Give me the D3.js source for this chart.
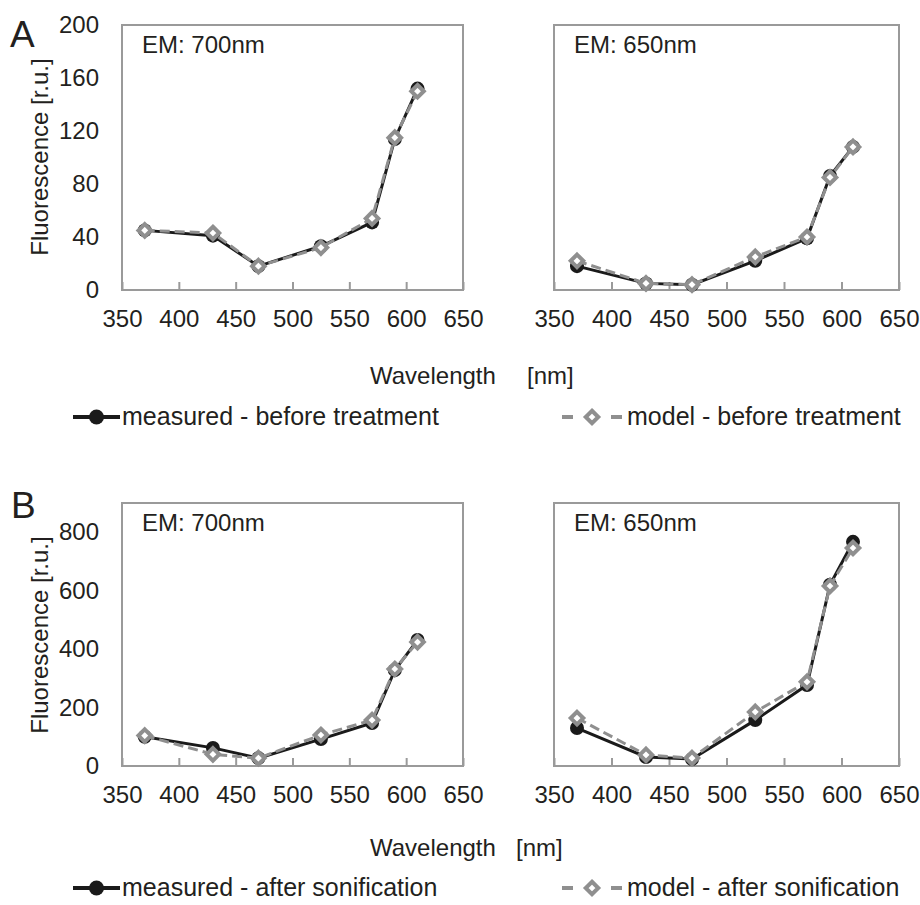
<!DOCTYPE html>
<html>
<head>
<meta charset="utf-8">
<script src="https://cdn.jsdelivr.net/npm/d3@7"></script>
<style>
  html, body { margin: 0; padding: 0; background: #fff; }
  svg { display: block; }
  text { font-family: "Liberation Sans", Arial, sans-serif; fill: #231f20; }
</style>
</head>
<body>
<svg id="chart" width="920" height="905"></svg>
<script>
// ---- data ----
const wavelengths = [370, 430, 470, 525, 570, 590, 610];
const xTicks = [350, 400, 450, 500, 550, 600, 650];
const yTicksTop = [0, 40, 80, 120, 160, 200];
const yTicksBottom = [0, 200, 400, 600, 800];

const measuredBefore700 = [45, 41, 18, 33, 51, 114, 152];
const modelBefore700    = [45, 43, 18, 32, 54, 115, 150];
const measuredBefore650 = [18, 5, 4, 22, 39, 86, 108];
const modelBefore650    = [22, 5, 4, 25, 40, 85, 108];
const measuredAfter700  = [100, 62, 27, 92, 147, 328, 431];
const modelAfter700     = [104, 40, 27, 106, 157, 332, 424];
const measuredAfter650  = [130, 31, 24, 157, 277, 620, 767];
const modelAfter650     = [164, 38, 27, 185, 288, 616, 746];

const panelTitles = ["EM: 700nm", "EM: 650nm"];
const legendTop = ["measured - before treatment", "model - before treatment"];
const legendBottom = ["measured - after sonification", "model - after sonification"];

// ---- layout ----
const svg = d3.select("#chart");
const BLACK = "#1a1a1a", GRAY = "#8f8f8f", BOX = "#9a9a9a";
const FS = 24, LFS = 25;

const panels = [
  {x0: 122, x1: 463, y0: 25,  y1: 290, ymax: 200, yTicks: yTicksTop, showY: true,  title: panelTitles[0], meas: measuredBefore700, mod: modelBefore700},
  {x0: 554, x1: 899, y0: 25,  y1: 290, ymax: 200, yTicks: yTicksTop, showY: false, title: panelTitles[1], meas: measuredBefore650, mod: modelBefore650},
  {x0: 122, x1: 463, y0: 503, y1: 766, ymax: 900, yTicks: yTicksBottom, showY: true,  title: panelTitles[0], meas: measuredAfter700, mod: modelAfter700},
  {x0: 554, x1: 899, y0: 503, y1: 766, ymax: 900, yTicks: yTicksBottom, showY: false, title: panelTitles[1], meas: measuredAfter650, mod: modelAfter650},
];

const diamond = d3.symbol().type(d3.symbolDiamond2).size(100);

panels.forEach(p => {
  const x = d3.scaleLinear().domain([350, 650]).range([p.x0, p.x1]);
  const y = d3.scaleLinear().domain([0, p.ymax]).range([p.y1, p.y0]);
  const g = svg.append("g");

  // box
  g.append("rect").attr("x", p.x0).attr("y", p.y0)
    .attr("width", p.x1 - p.x0).attr("height", p.y1 - p.y0)
    .attr("fill", "none").attr("stroke", BOX).attr("stroke-width", 2);

  // x axis (ticks inside)
  const xa = g.append("g").attr("transform", `translate(0,${p.y1})`)
    .call(d3.axisBottom(x).tickValues(xTicks).tickFormat(d3.format("d"))
      .tickSizeInner(-8).tickSizeOuter(0).tickPadding(20));
  xa.select(".domain").remove();
  xa.selectAll("line").attr("stroke", BOX).attr("stroke-width", 2);
  xa.selectAll("text").attr("font-size", FS).attr("fill", "#231f20")
    .attr("font-family", '"Liberation Sans", Arial, sans-serif');

  if (p.showY) {
    const ya = g.append("g").attr("transform", `translate(${p.x0},0)`)
      .call(d3.axisLeft(y).tickValues(p.yTicks).tickSize(0).tickPadding(23));
    ya.select(".domain").remove();
    ya.selectAll("text").attr("font-size", FS).attr("fill", "#231f20")
      .attr("font-family", '"Liberation Sans", Arial, sans-serif');
  }

  g.append("text").attr("x", p.x0 + 20).attr("y", p.y0 + 28)
    .attr("font-size", FS).text(p.title);

  const pts = (vals) => wavelengths.map((w, i) => [x(w), y(vals[i])]);
  const line = d3.line();

  // measured
  g.append("path").attr("d", line(pts(p.meas))).attr("fill", "none")
    .attr("stroke", BLACK).attr("stroke-width", 3);
  g.selectAll(".c").data(pts(p.meas)).enter().append("circle")
    .attr("cx", d => d[0]).attr("cy", d => d[1]).attr("r", 7).attr("fill", BLACK);

  // model
  g.append("path").attr("d", line(pts(p.mod))).attr("fill", "none")
    .attr("stroke", GRAY).attr("stroke-width", 3).attr("stroke-dasharray", "10,5");
  g.selectAll(".d").data(pts(p.mod)).enter().append("path")
    .attr("d", diamond).attr("transform", d => `translate(${d[0]},${d[1]})`)
    .attr("fill", "#fff").attr("stroke", GRAY).attr("stroke-width", 4);
});

// panel letters
svg.append("text").attr("x", 10).attr("y", 47).attr("font-size", 37).text("A");
svg.append("text").attr("x", 11).attr("y", 518).attr("font-size", 37).text("B");

// y axis titles
[[157, "Fluorescence [r.u.]"], [635, "Fluorescence [r.u.]"]].forEach(([cy, t]) => {
  svg.append("text").attr("transform", `translate(48,${cy}) rotate(-90)`)
    .attr("text-anchor", "middle").attr("font-size", FS).text(t);
});

// x axis titles
svg.append("text").attr("x", 370).attr("y", 384).attr("font-size", FS).text("Wavelength");
svg.append("text").attr("x", 527).attr("y", 384).attr("font-size", FS).text("[nm]");
svg.append("text").attr("x", 370).attr("y", 856).attr("font-size", FS).text("Wavelength");
svg.append("text").attr("x", 516).attr("y", 856).attr("font-size", FS).text("[nm]");

// legends
function legend(yc, labels, mx, mtx, dx, dtx) {
  svg.append("line").attr("x1", mx[0]).attr("x2", mx[1]).attr("y1", yc).attr("y2", yc)
    .attr("stroke", BLACK).attr("stroke-width", 4);
  svg.append("circle").attr("cx", (mx[0] + mx[1]) / 2).attr("cy", yc).attr("r", 7.5).attr("fill", BLACK);
  svg.append("text").attr("x", mtx).attr("y", yc + 8).attr("font-size", LFS).text(labels[0]);

  svg.append("line").attr("x1", dx[0]).attr("x2", dx[0] + 11).attr("y1", yc).attr("y2", yc)
    .attr("stroke", GRAY).attr("stroke-width", 4);
  svg.append("line").attr("x1", dx[1] - 11).attr("x2", dx[1]).attr("y1", yc).attr("y2", yc)
    .attr("stroke", GRAY).attr("stroke-width", 4);
  svg.append("path").attr("d", diamond).attr("transform", `translate(${(dx[0] + dx[1]) / 2},${yc})`)
    .attr("fill", "#fff").attr("stroke", GRAY).attr("stroke-width", 4);
  svg.append("text").attr("x", dtx).attr("y", yc + 8).attr("font-size", LFS).text(labels[1]);
}
legend(417, legendTop, [73, 120], 122, [562, 622], 627);
legend(888, legendBottom, [73, 120], 122, [562, 622], 627);
</script>
</body>
</html>
